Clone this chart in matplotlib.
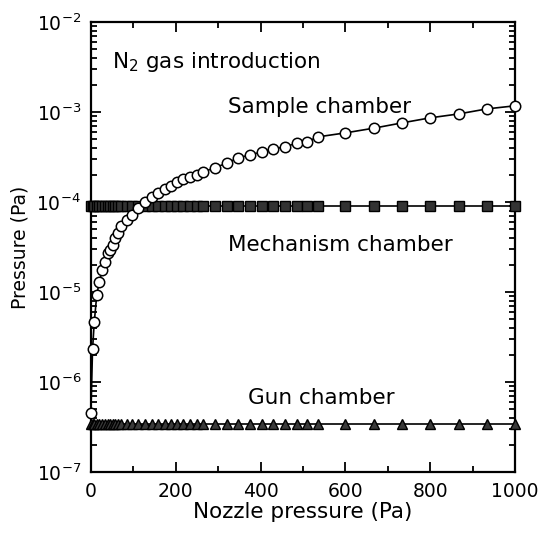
import matplotlib
matplotlib.use("Agg")
import matplotlib.pyplot as plt
import matplotlib.ticker as ticker

plt.rcParams["font.family"] = ["DejaVu Sans"]

# Nozzle pressure (Pa) at each measurement
nozzle = [0, 4, 8, 14, 20, 27, 33, 40, 45, 52, 58, 64, 70, 85, 97, 111, 127, 144,
          158, 175, 189, 203, 217, 233, 250, 264, 292, 321, 347, 375, 403, 429,
          458, 486, 509, 535, 600, 667, 733, 800, 867, 933, 1000]

# Sample chamber pressure (Pa)
sample = [4.5e-7, 2.3e-6, 4.6e-6, 9.3e-6, 1.3e-5, 1.75e-5, 2.15e-5, 2.7e-5, 2.9e-5,
          3.3e-5, 4.0e-5, 4.5e-5, 5.4e-5, 6.3e-5, 7.2e-5, 8.6e-5, 1.0e-4, 1.14e-4,
          1.26e-4, 1.39e-4, 1.51e-4, 1.67e-4, 1.80e-4, 1.90e-4, 2.0e-4, 2.15e-4,
          2.39e-4, 2.71e-4, 3.08e-4, 3.33e-4, 3.59e-4, 3.88e-4, 4.08e-4, 4.53e-4,
          4.64e-4, 5.28e-4, 5.85e-4, 6.6e-4, 7.55e-4, 8.6e-4, 9.5e-4, 1.08e-3, 1.17e-3]

# Mechanism chamber and gun chamber stay nearly constant
mechanism = [9.0e-5] * len(nozzle)
gun = [3.4e-7] * len(nozzle)

fig = plt.figure(figsize=(5.44, 5.35), dpi=100)
ax = fig.add_axes([0.167, 0.118, 0.78, 0.841])

ax.plot(nozzle, mechanism, "-s", color="black", lw=1.2, ms=7.5,
        markerfacecolor="#333333", markeredgecolor="black", clip_on=False, zorder=3)
ax.plot(nozzle, gun, "-^", color="black", lw=1.2, ms=7.5,
        markerfacecolor="#3a3a3a", markeredgecolor="black", clip_on=False, zorder=3)
ax.plot(nozzle, sample, "-o", color="black", lw=1.2, ms=7.5,
        markerfacecolor="white", markeredgecolor="black", markeredgewidth=1.1,
        clip_on=False, zorder=4)

ax.set_yscale("log")
ax.set_xlim(0, 1000)
ax.set_ylim(1e-7, 1e-2)

ax.xaxis.set_major_locator(ticker.MultipleLocator(200))
ax.xaxis.set_minor_locator(ticker.MultipleLocator(100))
ax.yaxis.set_major_locator(ticker.LogLocator(base=10, numticks=10))
ax.yaxis.set_minor_locator(ticker.LogLocator(base=10, subs=range(2, 10), numticks=20))
ax.yaxis.set_minor_formatter(ticker.NullFormatter())

ax.tick_params(which="both", direction="in", top=True, right=True, width=1.3)
ax.tick_params(which="major", length=7, labelsize=13.5, pad=7)
ax.tick_params(which="minor", length=4)
for s in ax.spines.values():
    s.set_linewidth(1.6)

ax.set_xlabel("Nozzle pressure (Pa)", fontsize=15.5, labelpad=1)
ax.set_ylabel("Pressure (Pa)", fontsize=13.5, labelpad=5)

ax.text(0.05, 0.911, "N$_2$ gas introduction", transform=ax.transAxes,
        fontsize=15.5, va="center", ha="left")
ax.text(0.323, 0.811, "Sample chamber", transform=ax.transAxes,
        fontsize=15.5, va="center", ha="left")
ax.text(0.323, 0.504, "Mechanism chamber", transform=ax.transAxes,
        fontsize=15.5, va="center", ha="left")
ax.text(0.37, 0.164, "Gun chamber", transform=ax.transAxes,
        fontsize=15.5, va="center", ha="left")

fig.savefig("out.png", dpi=100)
